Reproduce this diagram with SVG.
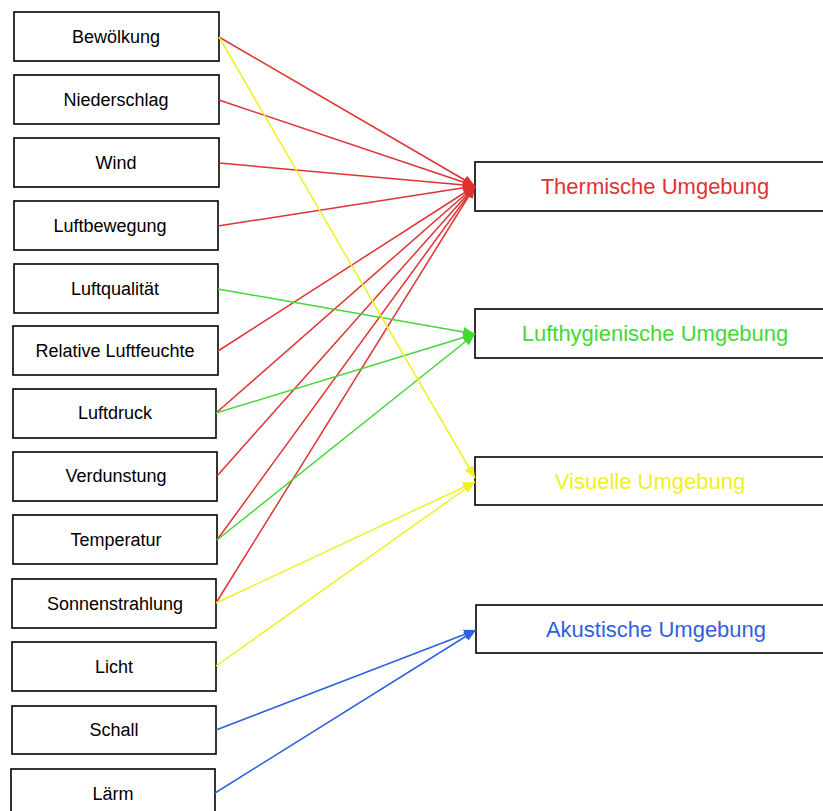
<svg xmlns="http://www.w3.org/2000/svg" width="823" height="811" viewBox="0 0 823 811">
  <style>
    .box { fill: #ffffff; stroke: #000000; stroke-width: 1.6; }
    .lbl { font-family: "Liberation Sans", Arial, sans-serif; font-size: 18px; fill: #000000; text-anchor: middle; }
    .tgt { font-family: "Liberation Sans", Arial, sans-serif; font-size: 22px; text-anchor: middle; }
    .red { stroke: #e03232; fill: #e03232; }
    .green { stroke: #44d834; fill: #44d834; }
    .yellow { stroke: #f0f022; fill: #f0f022; }
    .blue { stroke: #3060e0; fill: #3060e0; }
    .conn line { stroke-width: 1.5; fill: none; }
  </style>
  <defs>
    <marker id="ah-red" viewBox="0 0 12 10" refX="12" refY="5" markerWidth="12" markerHeight="10" markerUnits="userSpaceOnUse" orient="auto">
      <path d="M0,0 L12,5 L0,10 z" fill="#e03232"/>
    </marker>
    <marker id="ah-green" viewBox="0 0 12 10" refX="12" refY="5" markerWidth="12" markerHeight="10" markerUnits="userSpaceOnUse" orient="auto">
      <path d="M0,0 L12,5 L0,10 z" fill="#44d834"/>
    </marker>
    <marker id="ah-yellow" viewBox="0 0 12 10" refX="12" refY="5" markerWidth="12" markerHeight="10" markerUnits="userSpaceOnUse" orient="auto">
      <path d="M0,0 L12,5 L0,10 z" fill="#f0f022"/>
    </marker>
    <marker id="ah-blue" viewBox="0 0 12 10" refX="12" refY="5" markerWidth="12" markerHeight="10" markerUnits="userSpaceOnUse" orient="auto">
      <path d="M0,0 L12,5 L0,10 z" fill="#3060e0"/>
    </marker>
  </defs>
  <rect width="823" height="811" fill="#ffffff"/>

  <!-- source factors -->
  <g id="n-bewoelkung"><rect class="box" x="14" y="12" width="205" height="49"/><text class="lbl" x="116" y="43">Bewölkung</text></g>
  <g id="n-niederschlag"><rect class="box" x="14" y="75" width="205" height="49"/><text class="lbl" x="116" y="106">Niederschlag</text></g>
  <g id="n-wind"><rect class="box" x="14" y="138" width="205" height="49"/><text class="lbl" x="116" y="169">Wind</text></g>
  <g id="n-luftbewegung"><rect class="box" x="14" y="201" width="204" height="49"/><text class="lbl" x="110" y="232">Luftbewegung</text></g>
  <g id="n-luftqualitaet"><rect class="box" x="14" y="264" width="204" height="49"/><text class="lbl" x="115" y="295">Luftqualität</text></g>
  <g id="n-feuchte"><rect class="box" x="13" y="326" width="205" height="49"/><text class="lbl" x="115" y="357">Relative Luftfeuchte</text></g>
  <g id="n-luftdruck"><rect class="box" x="13" y="389" width="203" height="49"/><text class="lbl" x="115" y="419">Luftdruck</text></g>
  <g id="n-verdunstung"><rect class="box" x="13" y="452" width="204" height="49"/><text class="lbl" x="116" y="482">Verdunstung</text></g>
  <g id="n-temperatur"><rect class="box" x="13" y="515" width="204" height="49"/><text class="lbl" x="116" y="546">Temperatur</text></g>
  <g id="n-sonnenstrahlung"><rect class="box" x="12" y="579" width="204" height="49"/><text class="lbl" x="115" y="610">Sonnenstrahlung</text></g>
  <g id="n-licht"><rect class="box" x="12" y="642" width="204" height="49"/><text class="lbl" x="114" y="673">Licht</text></g>
  <g id="n-schall"><rect class="box" x="12" y="706" width="204" height="48"/><text class="lbl" x="114" y="736">Schall</text></g>
  <g id="n-laerm"><rect class="box" x="11" y="769" width="204" height="49"/><text class="lbl" x="113" y="800">Lärm</text></g>

  <!-- environment categories -->
  <g id="n-thermisch"><rect class="box" x="475" y="162" width="360" height="49"/><text class="tgt" x="655" y="194" fill="#e03232">Thermische Umgebung</text></g>
  <g id="n-lufthygiene"><rect class="box" x="475" y="309" width="360" height="49"/><text class="tgt" x="655" y="341" fill="#44d834">Lufthygienische Umgebung</text></g>
  <g id="n-visuell"><rect class="box" x="475" y="457" width="360" height="48"/><text class="tgt" x="650" y="489" fill="#f0f022">Visuelle Umgebung</text></g>
  <g id="n-akustisch"><rect class="box" x="476" y="605" width="360" height="48"/><text class="tgt" x="656" y="637" fill="#3060e0">Akustische Umgebung</text></g>

  <!-- influence connectors -->
  <g id="connectors" class="conn">
    <line class="red" x1="219" y1="37" x2="475" y2="186" marker-end="url(#ah-red)"/>
    <line class="red" x1="219" y1="100" x2="475" y2="186" marker-end="url(#ah-red)"/>
    <line class="red" x1="219" y1="163" x2="475" y2="186" marker-end="url(#ah-red)"/>
    <line class="red" x1="218" y1="226" x2="475" y2="186" marker-end="url(#ah-red)"/>
    <line class="red" x1="218" y1="351" x2="475" y2="186" marker-end="url(#ah-red)"/>
    <line class="red" x1="216" y1="413" x2="475" y2="186" marker-end="url(#ah-red)"/>
    <line class="red" x1="217" y1="476" x2="475" y2="186" marker-end="url(#ah-red)"/>
    <line class="red" x1="217" y1="540" x2="475" y2="186" marker-end="url(#ah-red)"/>
    <line class="red" x1="216" y1="603" x2="475" y2="186" marker-end="url(#ah-red)"/>

    <line class="green" x1="218" y1="289" x2="475" y2="334" marker-end="url(#ah-green)"/>
    <line class="green" x1="216" y1="413" x2="475" y2="334" marker-end="url(#ah-green)"/>
    <line class="green" x1="217" y1="540" x2="475" y2="334" marker-end="url(#ah-green)"/>

    <line class="yellow" x1="219" y1="37" x2="475" y2="478" marker-end="url(#ah-yellow)"/>
    <line class="yellow" x1="216" y1="603" x2="475" y2="482" marker-end="url(#ah-yellow)"/>
    <line class="yellow" x1="216" y1="666" x2="475" y2="482" marker-end="url(#ah-yellow)"/>

    <line class="blue" x1="216" y1="730" x2="476" y2="630" marker-end="url(#ah-blue)"/>
    <line class="blue" x1="215" y1="793" x2="476" y2="630" marker-end="url(#ah-blue)"/>
  </g>
</svg>
